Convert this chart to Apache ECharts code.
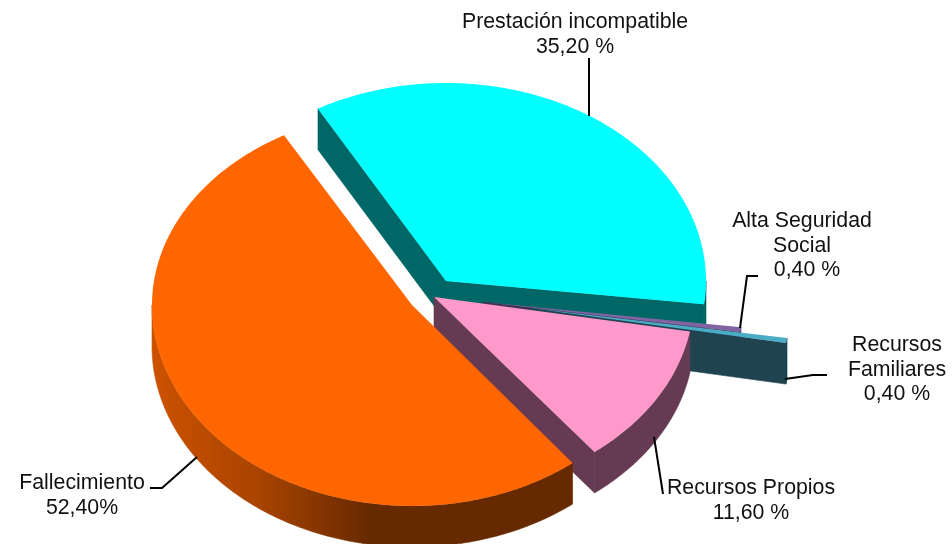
<!DOCTYPE html>
<html>

<head>
    <meta charset="utf-8">
    <title>Pie chart</title>
    <script src="https://cdn.jsdelivr.net/npm/echarts@6/dist/echarts.min.js"></script>
    <style>
        html, body { margin: 0; padding: 0; background: #fff; }
    </style>
</head>

<body>
    <div id="chart" style="width: 952px; height: 544px;"></div>

    <script>
        // data, in clockwise order starting at the upper left cut
        var categories = ['Prestación incompatible', 'Alta Seguridad Social', 'Recursos Familiares', 'Recursos Propios', 'Fallecimiento'];
        var values = [35.2, 0.4, 0.4, 11.6, 52.4];
        var valueLabels = ['35,20 %', '0,40 %', '0,40 %', '11,60 %', '52,40%'];
        var labelNames = ['Prestación incompatible', 'Alta Seguridad\nSocial', 'Recursos\nFamiliares', 'Recursos Propios', 'Fallecimiento'];

        // look of each slice
        var topColors = ['#00ffff', '#8064a2', '#4bacc6', '#ff99cc', '#ff6600'];
        var wallColors = ['#006666', '#3f3151', '#1f4450', '#663a52', null];
        var orangeWall = [
            { offset: 0, color: '#cc5200' },
            { offset: 0.25, color: '#aa4400' },
            { offset: 0.52, color: '#662900' },
            { offset: 1, color: '#662900' }
        ];

        // projection of the tilted pie, and how far each slice was pulled out
        var radiusX = 260, depth = 41, startAngle = -29.5;
        var radiusBack = [198, 200, 200, 197, 195];
        var radiusFront = [185, 200, 200, 197, 201];
        var apexX = [446, 483, 530, 434, 412];
        var apexY = [281, 302, 308, 297, 305];

        var total = values.reduce(function (a, b) { return a + b; }, 0);

        function rimPoint(i, deg, drop) {
            var r = deg * Math.PI / 180;
            var c = Math.cos(r);
            var radiusY = c > 0 ? radiusBack[i] : radiusFront[i];
            return [apexX[i] + radiusX * Math.sin(r), apexY[i] - radiusY * c + (drop || 0)];
        }

        // a radial edge gets a visible wall when the slice lies above it on screen
        function edgeVisible(i, deg, inside) {
            var p = rimPoint(i, deg), q = rimPoint(i, inside);
            var lineY = apexY[i] + (p[1] - apexY[i]) * (q[0] - apexX[i]) / (p[0] - apexX[i]);
            return q[1] < lineY;
        }

        function sliceShapes(i, from, to) {
            var children = [];
            var wall = wallColors[i] || new echarts.graphic.LinearGradient(0, 0, 1, 0, orangeWall);
            var top = [[apexX[i], apexY[i]]];
            var d;
            for (d = from; d <= to; d += 0.5) top.push(rimPoint(i, d));
            top.push(rimPoint(i, to));

            [[from, from + 1], [to, to - 1]].forEach(function (e) {
                if (!edgeVisible(i, e[0], e[1])) return;
                var a = rimPoint(i, e[0]);
                children.push({
                    type: 'polygon',
                    shape: { points: [[apexX[i], apexY[i]], a, [a[0], a[1] + depth], [apexX[i], apexY[i] + depth]] },
                    style: { fill: wallColors[i] || '#662900', stroke: wallColors[i] || '#662900', lineWidth: 0.6 }
                });
            });

            // only the front half of the rim can be seen
            var a1 = Math.max(from, 90), a2 = Math.min(to, 270);
            if (a2 > a1) {
                var upper = [], lower = [];
                for (d = a1; d <= a2; d += 0.5) {
                    upper.push(rimPoint(i, d));
                    lower.unshift(rimPoint(i, d, depth));
                }
                upper.push(rimPoint(i, a2));
                lower.unshift(rimPoint(i, a2, depth));
                children.push({
                    type: 'polygon',
                    shape: { points: upper.concat(lower) },
                    style: { fill: wall, stroke: wall, lineWidth: 0.6 }
                });
            }

            children.push({ type: 'polygon', shape: { points: top }, style: { fill: topColors[i] } });
            return { type: 'group', children: children };
        }

        var sliceFrom = [], sliceTo = [], running = startAngle;
        values.forEach(function (v) {
            sliceFrom.push(running);
            running += v / total * 360;
            sliceTo.push(running);
        });

        // leader lines and text blocks, same order as categories
        var leaders = [
            [[589, 58], [589, 116]],
            [[740, 328], [747, 276], [758, 276]],
            [[785, 379], [813, 375], [827, 375]],
            [[654, 437], [663, 494]],
            [[197, 457], [162, 488], [150, 488]]
        ];
        var labelX = [575, 802, 897, 751, 82];
        var labelY = [10, 209, 333, 476, 471];
        var valueShift = [0, 5, 0, 0, 0];
        var lineHeight = 24.5;

        function textItem(x, y, text) {
            return {
                type: 'text',
                z: 10,
                style: {
                    x: x,
                    y: y,
                    text: text,
                    align: 'center',
                    verticalAlign: 'top',
                    lineHeight: lineHeight,
                    font: '21.3px "Liberation Sans", Arial, sans-serif',
                    fill: '#111'
                }
            };
        }

        var graphics = [];
        categories.forEach(function (name, i) {
            var nameLines = labelNames[i].split('\n').length;
            graphics.push({
                type: 'polyline',
                z: 10,
                shape: { points: leaders[i] },
                style: { stroke: '#000', lineWidth: 2, fill: null }
            });
            graphics.push(textItem(labelX[i], labelY[i], labelNames[i]));
            graphics.push(textItem(labelX[i] + valueShift[i], labelY[i] + nameLines * lineHeight, valueLabels[i]));
        });

        var chart = echarts.init(document.getElementById('chart'));

        var options = {
            animation: false,
            backgroundColor: '#fff',
            graphic: graphics,
            series: [{
                type: 'custom',
                coordinateSystem: 'none',
                silent: true,
                data: values.map(function (v, i) { return [i, v, categories[i]]; }),
                renderItem: function (params, api) {
                    var i = api.value(0);
                    return sliceShapes(i, sliceFrom[i], sliceTo[i]);
                }
            }]
        };

        chart.setOption(options);
    </script>
</body>

</html>
